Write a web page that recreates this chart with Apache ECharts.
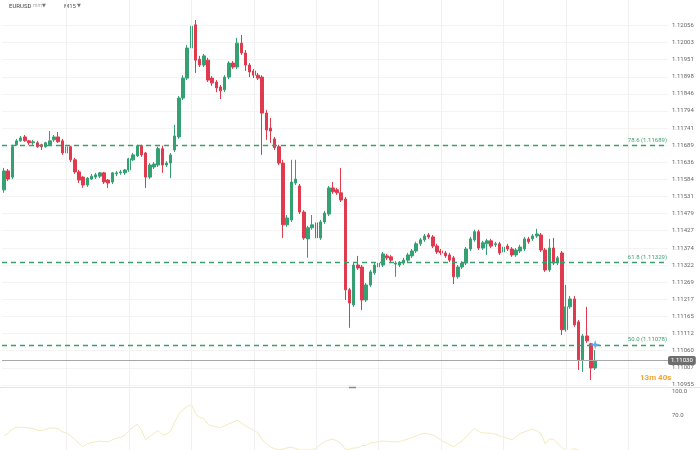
<!DOCTYPE html>
<html>
<head>
<meta charset="utf-8">
<script src="https://cdn.jsdelivr.net/npm/echarts@6.0.0/dist/echarts.min.js"></script>
<style>html,body{margin:0;padding:0;background:#fff;}#main{width:700px;height:450px;}</style>
</head>
<body>
<div id="main"></div>
<script>
// ---- data ----
const opens = [1.11552,1.11610,1.11591,1.11690,1.11702,1.11714,1.11702,1.11696,1.11696,1.11690,
1.11684,1.11690,1.11705,1.11714,1.11702,1.11665,1.11684,1.11644,1.11607,1.11591,
1.11567,1.11585,1.11591,1.11594,1.11604,1.11582,1.11576,1.11601,1.11604,1.11604,
1.11613,1.11644,1.11656,1.11687,1.11665,1.11591,1.11622,1.11628,1.11678,1.11628,
1.11634,1.11674,1.11714,1.11833,1.11894,1.11986,1.12057,1.11952,1.11934,1.11949,
1.11894,1.11882,1.11867,1.11858,1.11897,1.11940,1.11928,1.12001,1.11971,1.11934,
1.11916,1.11903,1.11897,1.11787,1.11741,1.11708,1.11684,1.11634,1.11445,1.11460,
1.11573,1.11564,1.11484,1.11402,1.11436,1.11451,1.11405,1.11454,1.11478,1.11558,
1.11552,1.11543,1.11524,1.11246,1.11200,1.11322,1.11316,1.11215,1.11261,1.11298,
1.11316,1.11322,1.11350,1.11347,1.11325,1.11322,1.11328,1.11337,1.11350,1.11365,
1.11387,1.11399,1.11414,1.11408,1.11380,1.11365,1.11359,1.11353,1.11344,1.11286,
1.11316,1.11328,1.11371,1.11399,1.11424,1.11374,1.11387,1.11396,1.11384,1.11387,
1.11362,1.11380,1.11371,1.11353,1.11365,1.11371,1.11402,1.11402,1.11411,1.11414,
1.11368,1.11307,1.11374,1.11328,1.11359,1.11124,1.11194,1.11218,1.11148,1.11032,
1.11105,1.11081,1.11007];
const closes = [1.11610,1.11585,1.11684,1.11702,1.11711,1.11702,1.11696,1.11699,1.11684,1.11684,
1.11696,1.11702,1.11714,1.11699,1.11665,1.11684,1.11644,1.11607,1.11582,1.11567,
1.11588,1.11594,1.11598,1.11604,1.11576,1.11573,1.11604,1.11604,1.11607,1.11613,
1.11647,1.11659,1.11687,1.11659,1.11591,1.11628,1.11631,1.11678,1.11628,1.11634,
1.11659,1.11717,1.11833,1.11894,1.11986,1.12053,1.11949,1.11934,1.11962,1.11888,
1.11879,1.11864,1.11855,1.11897,1.11940,1.11928,1.12001,1.11971,1.11934,1.11913,
1.11903,1.11894,1.11787,1.11735,1.11732,1.11681,1.11634,1.11445,1.11466,1.11576,
1.11585,1.11484,1.11405,1.11436,1.11445,1.11405,1.11454,1.11481,1.11558,1.11546,
1.11543,1.11521,1.11246,1.11206,1.11322,1.11313,1.11215,1.11261,1.11301,1.11322,
1.11328,1.11356,1.11344,1.11337,1.11328,1.11328,1.11337,1.11353,1.11365,1.11387,
1.11399,1.11411,1.11408,1.11380,1.11362,1.11359,1.11350,1.11337,1.11286,1.11316,
1.11328,1.11371,1.11402,1.11424,1.11374,1.11390,1.11396,1.11380,1.11387,1.11359,
1.11377,1.11371,1.11353,1.11368,1.11377,1.11402,1.11393,1.11411,1.11417,1.11368,
1.11307,1.11374,1.11328,1.11344,1.11124,1.11194,1.11218,1.11139,1.11032,1.11105,
1.11090,1.11007,1.11030];
const highs = [1.11619,1.11616,1.11690,1.11708,1.11717,1.11720,1.11705,1.11705,1.11702,1.11693,
1.11699,1.11732,1.11720,1.11729,1.11708,1.11690,1.11687,1.11650,1.11613,1.11594,
1.11591,1.11601,1.11604,1.11607,1.11607,1.11585,1.11607,1.11610,1.11613,1.11616,
1.11650,1.11665,1.11690,1.11690,1.11668,1.11634,1.11637,1.11684,1.11687,1.11640,
1.11665,1.11751,1.11839,1.11903,1.11995,1.12084,1.12072,1.11962,1.11968,1.11956,
1.11900,1.11888,1.11873,1.11903,1.11946,1.11946,1.12017,1.12026,1.11980,1.11940,
1.11922,1.11910,1.11903,1.11796,1.11772,1.11714,1.11690,1.11644,1.11475,1.11644,
1.11644,1.11570,1.11490,1.11442,1.11475,1.11457,1.11460,1.11487,1.11564,1.11576,
1.11558,1.11619,1.11530,1.11252,1.11328,1.11350,1.11322,1.11267,1.11307,1.11328,
1.11334,1.11362,1.11356,1.11353,1.11334,1.11334,1.11344,1.11359,1.11371,1.11393,
1.11405,1.11417,1.11420,1.11414,1.11387,1.11371,1.11365,1.11359,1.11350,1.11322,
1.11334,1.11377,1.11408,1.11430,1.11430,1.11396,1.11402,1.11402,1.11393,1.11393,
1.11384,1.11387,1.11377,1.11374,1.11384,1.11408,1.11408,1.11417,1.11433,1.11420,
1.11374,1.11402,1.11405,1.11350,1.11365,1.11261,1.11227,1.11227,1.11154,1.11111,
1.11194,1.11084,1.11062];
const lows = [1.11543,1.11579,1.11585,1.11687,1.11699,1.11699,1.11690,1.11690,1.11681,1.11674,
1.11681,1.11687,1.11699,1.11696,1.11659,1.11659,1.11637,1.11601,1.11573,1.11558,
1.11561,1.11582,1.11585,1.11588,1.11570,1.11558,1.11570,1.11594,1.11598,1.11598,
1.11607,1.11640,1.11653,1.11653,1.11558,1.11585,1.11616,1.11622,1.11604,1.11622,
1.11588,1.11668,1.11708,1.11827,1.11888,1.11980,1.11910,1.11928,1.11928,1.11882,
1.11870,1.11851,1.11830,1.11851,1.11891,1.11922,1.11922,1.11965,1.11916,1.11897,
1.11894,1.11888,1.11659,1.11705,1.11696,1.11674,1.11628,1.11405,1.11439,1.11454,
1.11567,1.11478,1.11399,1.11344,1.11430,1.11399,1.11399,1.11448,1.11472,1.11540,
1.11537,1.11515,1.11215,1.11130,1.11194,1.11307,1.11184,1.11209,1.11255,1.11292,
1.11310,1.11316,1.11337,1.11331,1.11286,1.11316,1.11322,1.11331,1.11344,1.11359,
1.11380,1.11393,1.11402,1.11374,1.11356,1.11353,1.11344,1.11331,1.11264,1.11280,
1.11310,1.11322,1.11365,1.11393,1.11368,1.11368,1.11353,1.11374,1.11377,1.11353,
1.11356,1.11365,1.11347,1.11347,1.11359,1.11365,1.11387,1.11396,1.11405,1.11362,
1.11301,1.11301,1.11322,1.11322,1.11108,1.11118,1.11188,1.11133,1.11001,1.10995,
1.11084,1.10970,1.11001];
const rsiValues = [43.8,47.5,52.5,55,54.6,54.2,53.9,52.6,51.1,50.5,
52,53.6,53.8,52.9,48.8,47.8,44.1,39.6,34.1,30.6,
34.1,35.6,36.5,37.5,36.9,36.4,38.8,41,42,44.5,
50.5,55,58.6,51.4,39,43.1,47,50.6,45.3,46,
50.1,61.6,71.3,77,80.5,83.3,71.5,66.9,65.3,58,
56.4,55.3,54.3,56.3,59,61,63.6,60.1,56.6,53.4,
51,47.5,38.8,34.1,30,27.8,26.5,27.5,29,29.8,
28.1,26.5,26.3,26.3,26.3,28.8,33.1,36.8,38.5,39.8,
37.5,33.8,26.9,27.3,28.8,29,31.8,32,35,35.8,
36.5,37.4,37.1,36.6,36.3,36.8,38.4,40,41.8,43.9,
46.1,47.3,46.3,45.1,42,38.4,35.6,32.8,30.1,33.8,
37.4,42.5,48.8,53.1,49.3,47.5,47.5,47.3,45.8,44.1,
42.5,40.8,39,43.1,46.8,49,50.6,52.3,50.3,46.8,
33.8,40,39.6,34.9,29.3,25.3,25.8,28,26,24.1,
23.4,23,22.5];
const priceTicks = [1.10955,1.11007,1.11060,1.11112,1.11165,1.11217,1.11269,1.11322,1.11374,1.11427,
1.11479,1.11531,1.11584,1.11636,1.11689,1.11741,1.11794,1.11846,1.11898,1.11951,1.12003,1.12056];
const rsiTicks = [100, 70];
const fibLevels = [78.6, 61.8, 50.0];
const fibPrices = [1.11689, 1.11329, 1.11078];
const lastPrice = 1.11030;
const countdown = '13m 40s';
const symbolName = 'EURUSD';
const timeframe = 'M15';
const vGridIdx = [15,30,45,60,75,90,105,120,135,150];
const totalSlots = 160;
const categories = [];
for (let i = 0; i < totalSlots; i++) categories.push(String(i));

// ---- chart ----
const UP = '#35a072', DOWN = '#e03a4e', FIB = '#3a9f70';
const FONT = 'Roboto, "DejaVu Sans", sans-serif';
const candleData = opens.map((o, i) => [o, closes[i], lows[i], highs[i]]);
const chart = echarts.init(document.getElementById('main'), null, {renderer: 'canvas'});

const catAxis = (g) => ({
  type: 'category', gridIndex: g, data: categories, boundaryGap: true,
  axisLine: {show: false}, axisTick: {show: false}, axisLabel: {show: false}, splitLine: {show: false}
});
const vLines = (g) => ({
  type: 'line', xAxisIndex: g, yAxisIndex: g, data: [], z: 0, silent: true,
  markLine: {
    silent: true, symbol: 'none', animation: false, label: {show: false},
    lineStyle: {color: '#f1f1f1', type: 'solid', width: 1},
    emphasis: {disabled: true},
    data: vGridIdx.map(i => ({xAxis: i}))
  }
});

const option = {
  animation: false,
  backgroundColor: '#ffffff',
  textStyle: {fontFamily: FONT},
  grid: [
    {left: 2, top: 0, width: 666, height: 388},
    {left: 2, top: 388, width: 666, height: 62}
  ],
  xAxis: [catAxis(0), catAxis(1)],
  yAxis: [
    {
      type: 'value', gridIndex: 0, position: 'right', min: 1.109457, max: 1.12133, scale: true,
      axisLine: {show: false},
      axisTick: {show: false, customValues: priceTicks},
      axisLabel: {customValues: priceTicks, formatter: v => v.toFixed(5), fontSize: 6, color: '#666', margin: 4, fontFamily: FONT},
      splitLine: {show: true, lineStyle: {color: '#f4f4f4', width: 1}}
    },
    {
      type: 'value', gridIndex: 1, position: 'right', min: 26.25, max: 103.75,
      axisLine: {show: false},
      axisTick: {show: false, customValues: rsiTicks},
      axisLabel: {customValues: rsiTicks, formatter: v => v.toFixed(1), fontSize: 6, color: '#666', margin: 4, fontFamily: FONT},
      splitLine: {show: false}
    }
  ],
  series: [
    vLines(0),
    vLines(1),
    {
      type: 'candlestick', xAxisIndex: 0, yAxisIndex: 0, z: 3,
      data: candleData, barWidth: 3,
      itemStyle: {color: UP, color0: DOWN, borderColor: UP, borderColor0: DOWN, borderWidth: 1},
      markLine: {
        silent: true, symbol: 'none', animation: false, precision: 5,
        emphasis: {disabled: true},
        lineStyle: {color: FIB, type: [5, 4], width: 1.3},
        label: {position: 'insideEndTop', fontSize: 6, color: FIB, distance: [1, 2], fontFamily: FONT},
        data: fibPrices.map((p, k) => ({
          yAxis: p,
          label: {formatter: fibLevels[k].toFixed(1) + ' (' + p.toFixed(5) + ')'}
        })).concat([{
          yAxis: lastPrice,
          lineStyle: {color: '#a8a8a8', type: 'solid', width: 1},
          label: {position: 'end', formatter: lastPrice.toFixed(5), color: '#fff', backgroundColor: '#6e6e6e',
                  padding: [2, 3, 1, 3], borderRadius: 2, distance: 0, fontSize: 6}
        }])
      },
      markPoint: {
        silent: true, animation: false,
        data: [{
          coord: [142, fibPrices[2]],
          symbol: 'path://M5,0 L6,3.8 L10,5 L6,6.2 L5,10 L4,6.2 L0,5 L4,3.8 Z',
          symbolSize: 10,
          itemStyle: {color: '#5eaee8'},
          label: {show: false}
        }]
      }
    },
    {
      type: 'line', xAxisIndex: 1, yAxisIndex: 1, data: rsiValues, symbol: 'none', z: 2,
      lineStyle: {color: '#f2eac0', width: 1}
    }
  ],
  graphic: [
    {type: 'line', shape: {x1: 0, y1: 387.5, x2: 700, y2: 387.5}, style: {stroke: '#e4e4e4', lineWidth: 1}, silent: true},
    {type: 'line', shape: {x1: 349, y1: 387.5, x2: 356, y2: 387.5}, style: {stroke: '#8a8a8a', lineWidth: 1.5}, silent: true},
    {type: 'text', left: 9, top: 3, style: {text: symbolName, fontSize: 6, fill: '#444', fontFamily: FONT}},
    {type: 'text', left: 33, top: 3.5, style: {text: 'mm', fontSize: 5, fill: '#aaa', fontFamily: FONT}},
    {type: 'text', left: 42, top: 3, style: {text: '▼', fontSize: 5, fill: '#777', fontFamily: FONT}},
    {type: 'text', left: 64, top: 3, style: {text: timeframe, fontSize: 6, fill: '#555', fontFamily: FONT}},
    {type: 'text', left: 77, top: 3, style: {text: '▼', fontSize: 5, fill: '#777', fontFamily: FONT}},
    {type: 'text', left: 640, top: 374, style: {text: countdown, fontSize: 8, fontWeight: 'bold', fill: '#f2a63a', fontFamily: FONT}}
  ]
};
chart.setOption(option);
</script>
</body>
</html>
